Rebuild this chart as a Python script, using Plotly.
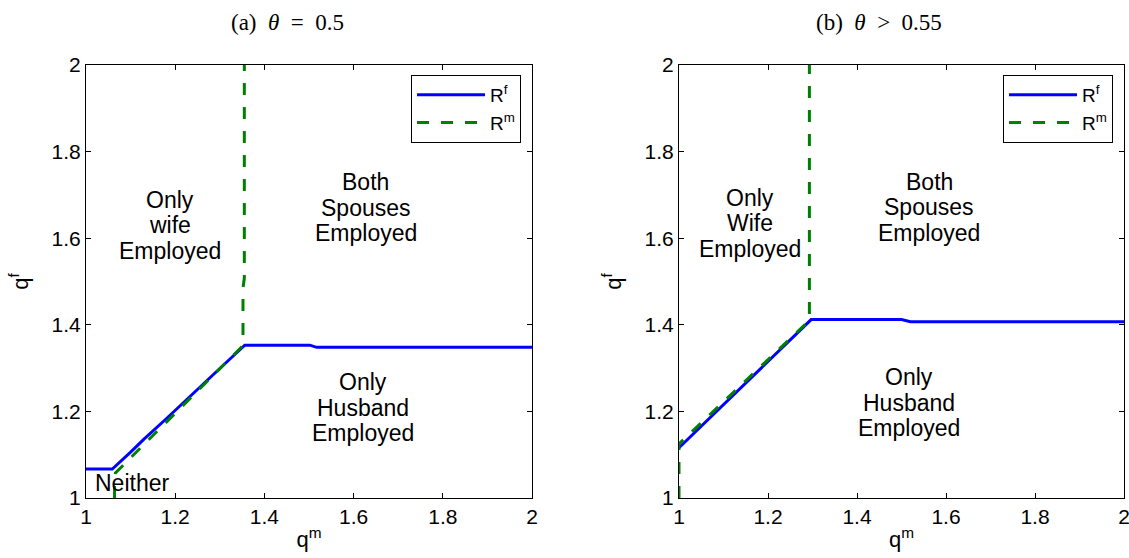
import plotly.graph_objects as go

# ---------------- data ----------------
# Panel (a): theta = 0.5
rf_a_x = [1.0, 1.059, 1.10, 1.13, 1.18, 1.22, 1.27, 1.30, 1.33, 1.356, 1.502, 1.517, 2.0]
rf_a_y = [1.067, 1.067, 1.106, 1.136, 1.183, 1.222, 1.272, 1.299, 1.328, 1.353, 1.353, 1.348, 1.348]
rm_a_x = [1.064, 1.064, 1.066, 1.352, 1.352, 1.355, 1.355]
rm_a_y = [1.0, 1.03, 1.058, 1.352, 1.485, 1.508, 2.0]

# Panel (b): theta > 0.55
rf_b_x = [1.0, 1.05, 1.10, 1.15, 1.20, 1.25, 1.297, 1.50, 1.52, 2.0]
rf_b_y = [1.116, 1.166, 1.214, 1.266, 1.314, 1.364, 1.412, 1.412, 1.407, 1.407]
rm_b_x = [1.0, 1.0, 1.293, 1.293]
rm_b_y = [1.0, 1.125, 1.410, 2.0]

x_ticks = [1, 1.2, 1.4, 1.6, 1.8, 2]
y_ticks = [1, 1.2, 1.4, 1.6, 1.8, 2]
tick_text = ["1", "1.2", "1.4", "1.6", "1.8", "2"]

panel_titles = ["(a)&nbsp;&nbsp;<i>θ</i>&nbsp;&nbsp;=&nbsp;&nbsp;0.5",
                "(b)&nbsp;&nbsp;<i>θ</i>&nbsp;&nbsp;>&nbsp;&nbsp;0.55"]

# region labels: (lines, x, y) in data coordinates (centre of the block)
regions_a = [
    (["Only", "wife", "Employed"], 1.189, 1.630),
    (["Both", "Spouses", "Employed"], 1.627, 1.670),
    (["Only", "Husband", "Employed"], 1.622, 1.208),
    (["Neither"], 1.103, 1.035),
]
regions_b = [
    (["Only", "Wife", "Employed"], 1.160, 1.634),
    (["Both", "Spouses", "Employed"], 1.562, 1.671),
    (["Only", "Husband", "Employed"], 1.517, 1.220),
]

# ---------------- figure ----------------
W, H = 1129, 558
BLUE = "#0000FF"
GREEN = "#008000"
FONT = "Liberation Sans, Arial, sans-serif"
SERIF = "Liberation Serif, Times New Roman, serif"

fig = go.Figure()

def add_panel(fig, rfx, rfy, rmx, rmy, xa, ya, legend):
    fig.add_trace(go.Scatter(x=rfx, y=rfy, mode="lines", name="R<sup>f</sup>",
                             line=dict(color=BLUE, width=3),
                             xaxis=xa, yaxis=ya, legend=legend))
    fig.add_trace(go.Scatter(x=rmx, y=rmy, mode="lines", name="R<sup>m</sup>",
                             line=dict(color=GREEN, width=3, dash="12px,12px"),
                             xaxis=xa, yaxis=ya, legend=legend))

add_panel(fig, rf_a_x, rf_a_y, rm_a_x, rm_a_y, "x", "y", "legend")
add_panel(fig, rf_b_x, rf_b_y, rm_b_x, rm_b_y, "x2", "y2", "legend2")

y_dom = [(H - 498) / H, (H - 65) / H]
axis_common = dict(
    range=[1, 2], showgrid=False, zeroline=False, showline=True,
    linecolor="black", linewidth=1, mirror="ticks",
    ticks="inside", ticklen=5, tickcolor="black", tickwidth=1,
    tickvals=x_ticks, ticktext=tick_text,
    tickfont=dict(family=FONT, size=21, color="black"),
    ticklabeloverflow="allow",
    automargin=False,
)
xt = dict(text="q<sup>m</sup>", standoff=4, font=dict(family=FONT, size=22))
yt = dict(text="q<sup>f</sup>", standoff=16, font=dict(family=FONT, size=22))

leg_common = dict(xanchor="right", yanchor="top",
                  bgcolor="white", bordercolor="black", borderwidth=1,
                  font=dict(family=FONT, size=19), itemwidth=68,
                  tracegroupgap=0)

fig.update_layout(
    width=W, height=H,
    margin=dict(l=0, r=0, t=0, b=0, autoexpand=False),
    paper_bgcolor="white", plot_bgcolor="white",
    font=dict(family=FONT, size=20, color="black"),
    xaxis=dict(axis_common, domain=[86 / W, 532 / W], anchor="y", title=xt),
    yaxis=dict(axis_common, domain=y_dom, anchor="x", title=yt),
    xaxis2=dict(axis_common, domain=[679 / W, 1124 / W], anchor="y2", title=xt),
    yaxis2=dict(axis_common, domain=y_dom, anchor="x2", title=yt),
    legend=dict(leg_common, x=521 / W, y=(H - 75) / H),
    legend2=dict(leg_common, x=1113 / W, y=(H - 75) / H),
    showlegend=True,
)

annotations = []
LS = 25.5
for regs, xr, yr in [(regions_a, "x", "y"), (regions_b, "x2", "y2")]:
    for (lines, x, y) in regs:
        n = len(lines)
        for i, t in enumerate(lines):
            annotations.append(dict(text=t, x=x, y=y, xref=xr, yref=yr, showarrow=False,
                                    yshift=((n - 1) / 2 - i) * LS,
                                    font=dict(family=FONT, size=23, color="black"),
                                    align="center"))
for t, cx in zip(panel_titles, [287, 879]):
    annotations.append(dict(text=t, x=cx / W, y=(H - 22) / H, xref="paper", yref="paper",
                            showarrow=False, xanchor="center", yanchor="middle",
                            font=dict(family=SERIF, size=23, color="black")))
fig.update_layout(annotations=annotations)

fig.write_html("out.html", config={"displayModeBar": False},
               post_script="document.body.style.margin='0';")
